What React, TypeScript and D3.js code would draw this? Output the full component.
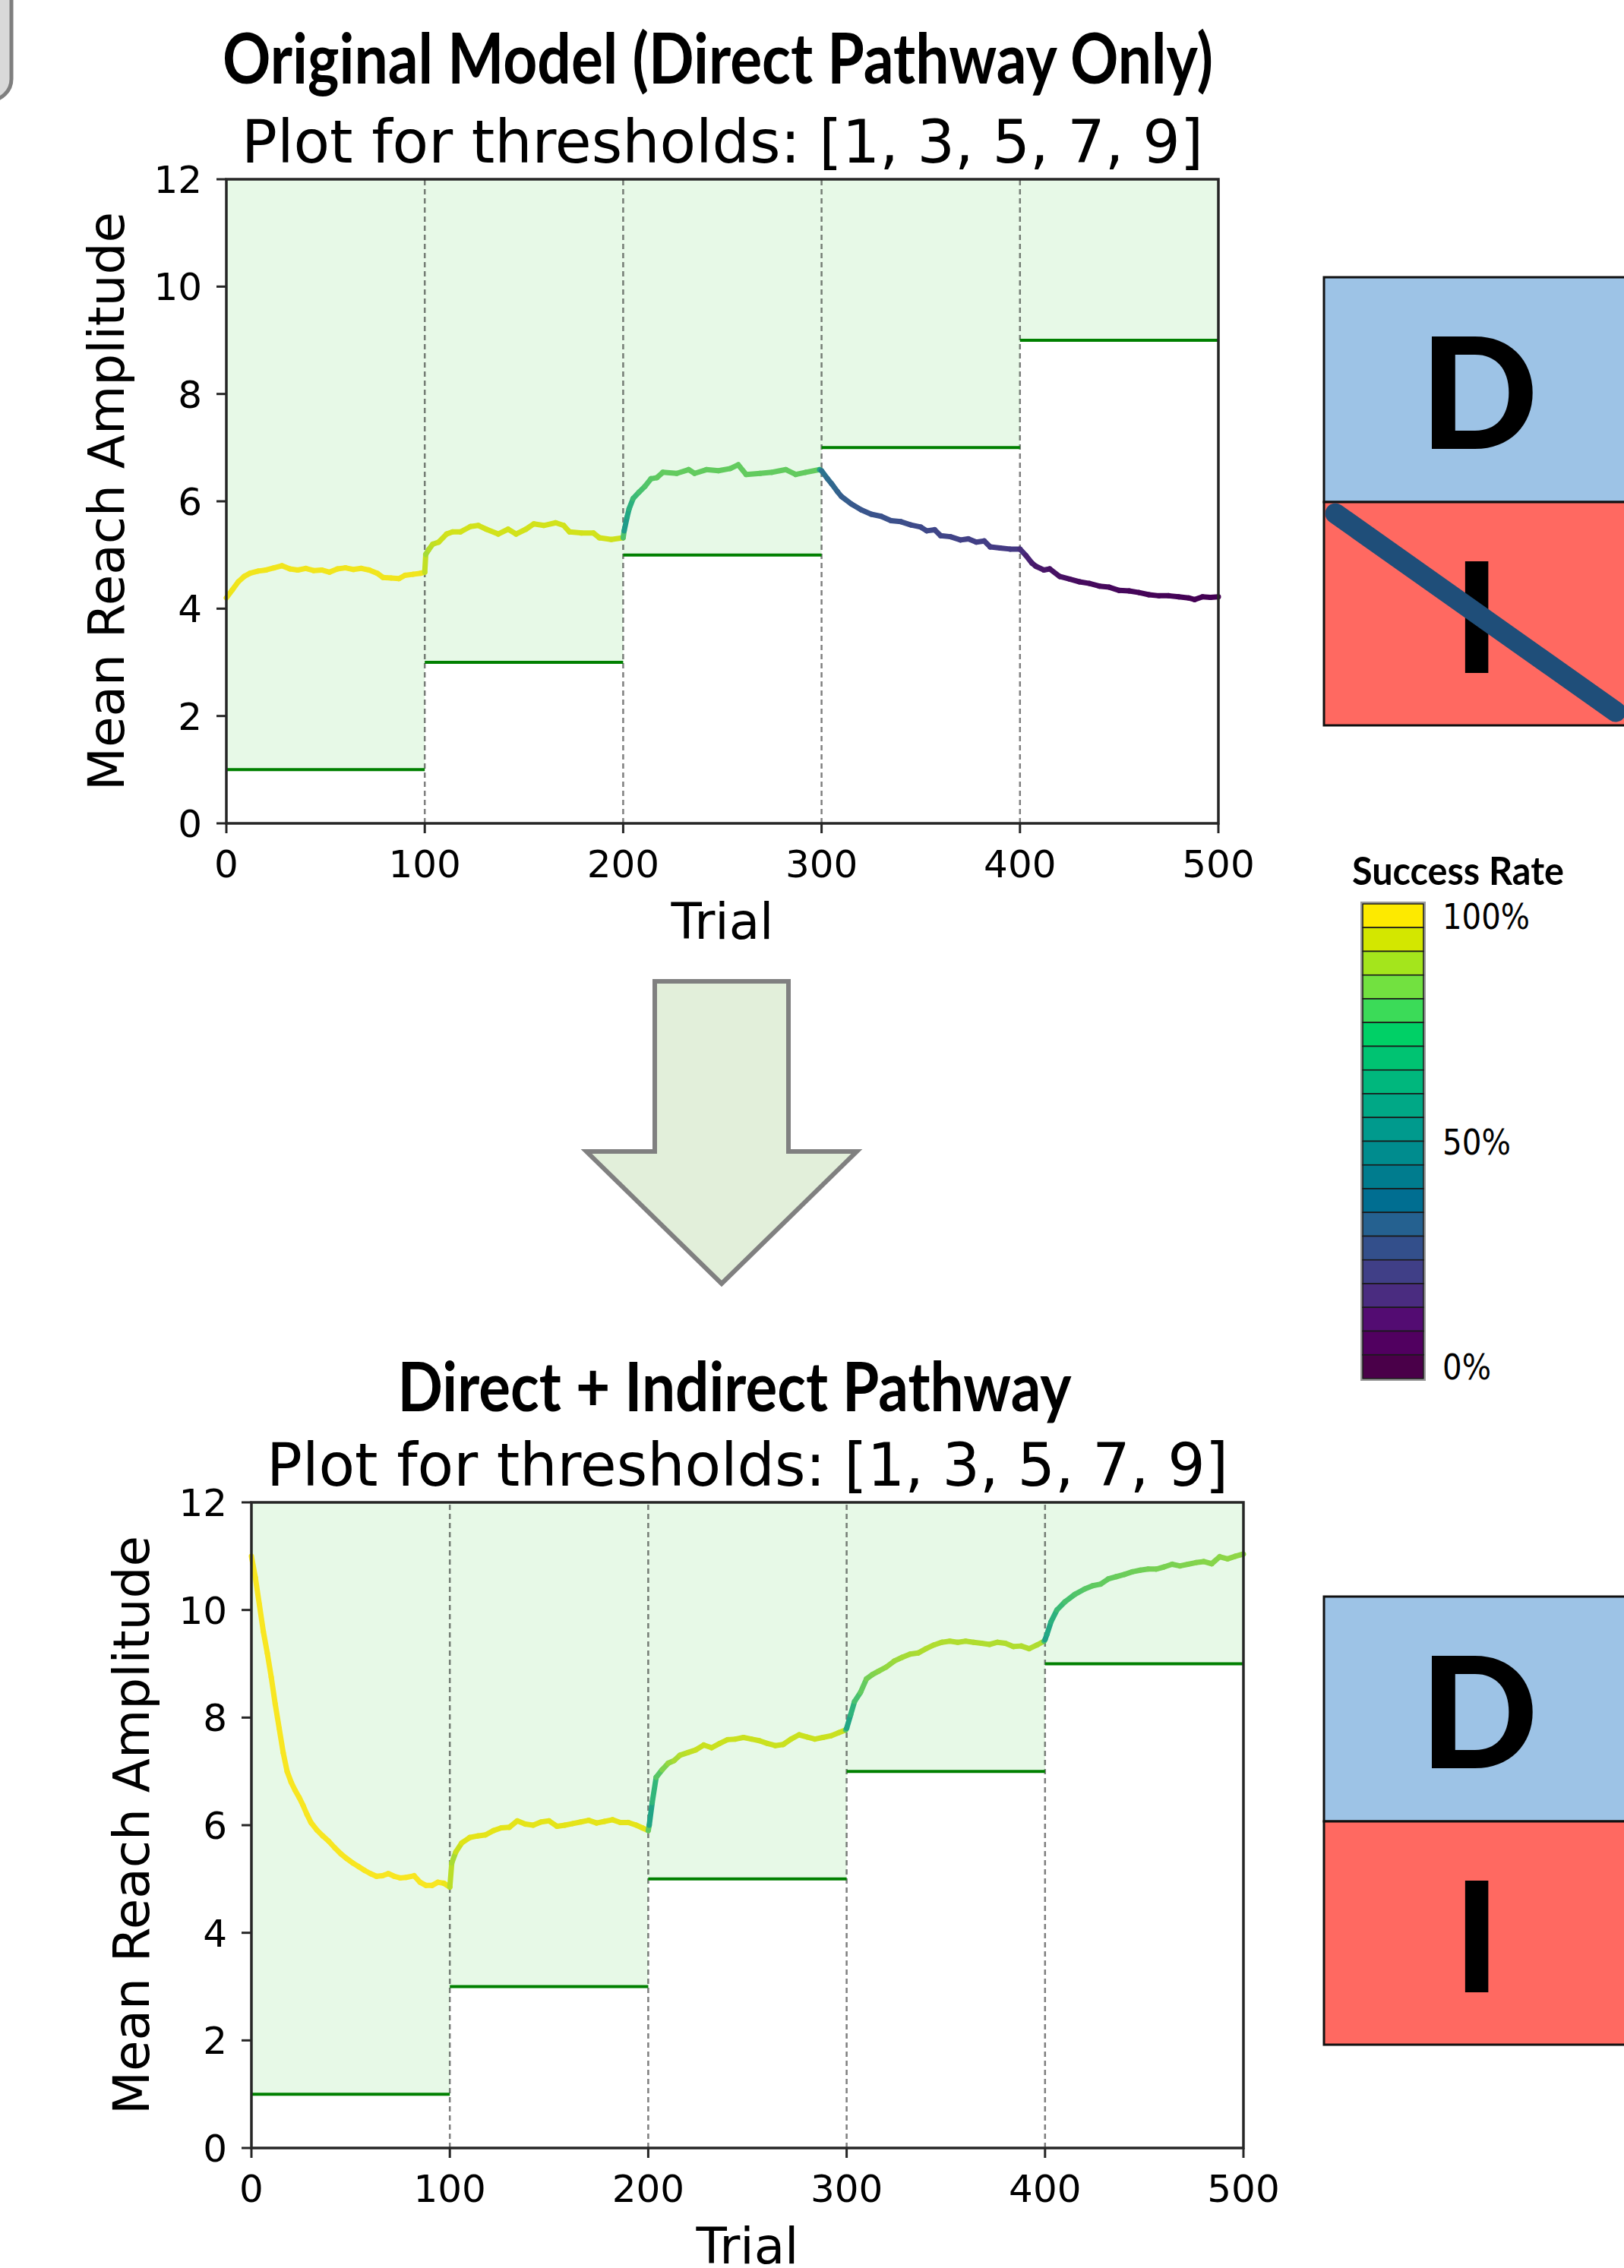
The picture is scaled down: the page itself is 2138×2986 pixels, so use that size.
import React from "react";
import * as d3 from "d3";

// thresholds per block of 100 trials
const thresholds = [1, 3, 5, 7, 9];
const blockEdges = [0, 100, 200, 300, 400, 500];
const xTicks = [0, 100, 200, 300, 400, 500];
const yTicks = [0, 2, 4, 6, 8, 10, 12];

// [trial, mean reach amplitude, success rate] - direct pathway only
const topBlock1 = [
  [0, 4.2, 0.97], [3, 4.35, 0.97], [6, 4.5, 0.98], [9, 4.6, 0.98], [12, 4.66, 0.98],
  [16, 4.7, 0.98], [20, 4.72, 0.98], [24, 4.76, 0.98], [28, 4.8, 0.98], [32, 4.74, 0.98],
  [36, 4.72, 0.98], [40, 4.75, 0.98], [44, 4.71, 0.98], [48, 4.72, 0.98], [52, 4.68, 0.98],
  [56, 4.74, 0.98], [60, 4.76, 0.98], [64, 4.73, 0.98], [68, 4.75, 0.98], [72, 4.72, 0.98],
  [76, 4.66, 0.98], [79, 4.58, 0.98], [83, 4.57, 0.98], [87, 4.56, 0.98], [90, 4.62, 0.98],
  [94, 4.64, 0.98], [98, 4.66, 0.98], [100, 4.68, 0.97],
];
const topBlock2 = [
  [100.5, 5.01, 0.85], [102, 5.1, 0.88], [104, 5.2, 0.9], [107, 5.24, 0.92], [111, 5.39, 0.93],
  [114, 5.43, 0.93], [118, 5.43, 0.93], [123, 5.53, 0.93], [127, 5.55, 0.93], [131, 5.48, 0.93],
  [137, 5.39, 0.93], [142, 5.48, 0.93], [146, 5.39, 0.93], [151, 5.48, 0.93], [155, 5.58, 0.93],
  [160, 5.55, 0.93], [166, 5.6, 0.93], [170, 5.55, 0.93], [173, 5.43, 0.93], [179, 5.41, 0.93],
  [185, 5.41, 0.93], [188, 5.32, 0.93], [194, 5.29, 0.93], [200, 5.32, 0.92],
];
const topBlock3 = [
  [200.5, 5.45, 0.52], [202, 5.71, 0.58], [203, 5.86, 0.62], [205, 6.05, 0.66], [208, 6.17, 0.7],
  [211, 6.28, 0.72], [214, 6.42, 0.74], [217, 6.44, 0.75], [220, 6.54, 0.76], [227, 6.52, 0.76],
  [233, 6.59, 0.76], [236, 6.52, 0.76], [242, 6.59, 0.76], [248, 6.57, 0.76], [254, 6.61, 0.76],
  [258, 6.68, 0.76], [262, 6.5, 0.76], [269, 6.52, 0.76], [275, 6.54, 0.76], [282, 6.59, 0.76],
  [287, 6.5, 0.76], [292, 6.54, 0.76], [299, 6.59, 0.76],
];
const topBlock4 = [
  [300, 6.57, 0.4], [303, 6.42, 0.36], [305, 6.33, 0.34], [308, 6.18, 0.32], [310, 6.09, 0.3],
  [315, 5.95, 0.28], [320, 5.84, 0.27], [325, 5.76, 0.26], [330, 5.72, 0.25], [335, 5.64, 0.25],
  [340, 5.62, 0.24], [345, 5.56, 0.23], [350, 5.52, 0.22], [353, 5.45, 0.22], [357, 5.47, 0.21],
  [360, 5.36, 0.21], [365, 5.34, 0.2], [370, 5.28, 0.2], [374, 5.3, 0.19], [378, 5.24, 0.19],
  [382, 5.26, 0.18], [385, 5.15, 0.18], [390, 5.13, 0.17], [395, 5.11, 0.17], [400, 5.11, 0.16],
];
const topBlock5 = [
  [403, 4.99, 0.1], [406, 4.85, 0.08], [408, 4.79, 0.07], [412, 4.72, 0.06], [415, 4.74, 0.05],
  [420, 4.6, 0.04], [425, 4.55, 0.04], [430, 4.5, 0.03], [435, 4.47, 0.03], [440, 4.42, 0.02],
  [445, 4.4, 0.02], [450, 4.34, 0.02], [455, 4.33, 0.02], [460, 4.3, 0.01], [465, 4.26, 0.01],
  [470, 4.24, 0.01], [475, 4.24, 0.01], [480, 4.22, 0.01], [485, 4.2, 0], [488, 4.17, 0],
  [492, 4.22, 0], [496, 4.21, 0], [500, 4.22, 0],
];

// direct + indirect pathway
const botBlock1 = [
  [0, 11.0, 0.99], [2, 10.6, 0.99], [4, 10.1, 0.99], [6, 9.6, 0.99], [8, 9.2, 0.99],
  [10, 8.75, 0.99], [12, 8.25, 0.99], [14, 7.8, 0.99], [16, 7.35, 0.99], [18, 7.0, 0.99],
  [20, 6.8, 0.99], [22, 6.65, 0.99], [24, 6.52, 0.99], [26, 6.37, 0.99], [28, 6.2, 0.99],
  [30, 6.05, 0.99], [33, 5.91, 0.99], [36, 5.8, 0.99], [39, 5.7, 0.99], [42, 5.58, 0.99],
  [45, 5.47, 0.99], [48, 5.38, 0.99], [51, 5.3, 0.99], [54, 5.23, 0.99], [57, 5.16, 0.99],
  [60, 5.1, 0.99], [63, 5.05, 0.99], [66, 5.06, 0.99], [69, 5.1, 0.99], [72, 5.05, 0.99],
  [75, 5.02, 0.99], [78, 5.03, 0.99], [82, 5.06, 0.99], [85, 4.94, 0.99], [88, 4.88, 0.99],
  [91, 4.88, 0.99], [94, 4.94, 0.99], [97, 4.92, 0.99], [100, 4.85, 0.95],
];
const botBlock2 = [
  [101, 5.3, 0.84], [103, 5.5, 0.9], [106, 5.67, 0.94], [110, 5.77, 0.96], [114, 5.8, 0.96],
  [118, 5.82, 0.96], [122, 5.9, 0.96], [126, 5.95, 0.96], [130, 5.96, 0.96], [134, 6.08, 0.96],
  [138, 6.02, 0.96], [142, 6.0, 0.96], [146, 6.06, 0.96], [150, 6.08, 0.96], [154, 5.98, 0.96],
  [158, 6.0, 0.96], [162, 6.03, 0.96], [166, 6.06, 0.96], [170, 6.09, 0.96], [174, 6.04, 0.96],
  [178, 6.07, 0.96], [182, 6.1, 0.96], [186, 6.05, 0.96], [190, 6.05, 0.96], [194, 6.0, 0.96],
  [197, 5.95, 0.96], [200, 5.9, 0.95],
];
const botBlock3 = [
  [200.5, 6.0, 0.55], [202, 6.42, 0.62], [204, 6.89, 0.7], [207, 7.03, 0.78], [210, 7.15, 0.83],
  [213, 7.2, 0.86], [216, 7.3, 0.88], [220, 7.35, 0.9], [224, 7.4, 0.91], [228, 7.49, 0.92],
  [232, 7.44, 0.92], [236, 7.52, 0.92], [240, 7.59, 0.92], [244, 7.6, 0.92], [248, 7.63, 0.92],
  [252, 7.6, 0.92], [256, 7.57, 0.92], [260, 7.52, 0.92], [264, 7.48, 0.92], [268, 7.5, 0.92],
  [272, 7.6, 0.92], [276, 7.68, 0.92], [280, 7.64, 0.92], [284, 7.6, 0.92], [288, 7.63, 0.92],
  [292, 7.66, 0.92], [296, 7.72, 0.92], [299.5, 7.77, 0.91],
];
const botBlock4 = [
  [300, 7.8, 0.56], [302, 8.05, 0.62], [304, 8.3, 0.68], [307, 8.47, 0.74], [310, 8.72, 0.78],
  [313, 8.8, 0.8], [316, 8.86, 0.82], [320, 8.94, 0.83], [324, 9.05, 0.85], [328, 9.12, 0.86],
  [332, 9.18, 0.87], [336, 9.2, 0.87], [340, 9.28, 0.88], [344, 9.35, 0.88], [348, 9.4, 0.88],
  [352, 9.42, 0.88], [356, 9.4, 0.88], [360, 9.42, 0.88], [364, 9.4, 0.88], [368, 9.38, 0.88],
  [372, 9.36, 0.88], [376, 9.4, 0.88], [380, 9.38, 0.88], [384, 9.32, 0.88], [388, 9.33, 0.88],
  [392, 9.28, 0.88], [396, 9.35, 0.88], [399.5, 9.42, 0.87],
];
const botBlock5 = [
  [400, 9.45, 0.55], [401, 9.55, 0.58], [403, 9.78, 0.62], [406, 10.0, 0.66], [410, 10.15, 0.7],
  [415, 10.29, 0.72], [420, 10.39, 0.74], [424, 10.45, 0.75], [428, 10.48, 0.76], [432, 10.58, 0.76],
  [436, 10.62, 0.77], [440, 10.66, 0.77], [444, 10.71, 0.78], [448, 10.74, 0.78], [452, 10.76, 0.79],
  [456, 10.76, 0.79], [460, 10.8, 0.8], [464, 10.85, 0.8], [468, 10.82, 0.8], [472, 10.85, 0.81],
  [476, 10.88, 0.81], [480, 10.9, 0.82], [484, 10.86, 0.82], [488, 10.99, 0.82], [492, 10.95, 0.83],
  [496, 11.0, 0.83], [500, 11.04, 0.83],
];

// stepped legend colours, top (100%) to bottom (0%)
const legendColors = [
  "#fdea00", "#d3e700", "#a4e51c", "#72e140", "#3bdb58", "#00d066", "#00c372",
  "#00b77d", "#00a886", "#009a8d", "#008c8e", "#007c8e", "#006e91", "#256190",
  "#334f8b", "#403f87", "#4a2c80", "#530c72", "#510060", "#4a0049",
];
const legendLabels = ["100%", "50%", "0%"];
const legendLabelValues = [1, 0.5, 0];

const W = 2138;
const H = 2986;
const MPL = "DejaVu Sans";
const SLIDE = "Lato, 'Open Sans', sans-serif";

type Pt = number[];
type Frame = { left: number; top: number; width: number; height: number };

function ReachChart({ frame, points }: { frame: Frame; points: Pt[] }) {
  const x = d3.scaleLinear().domain([0, 500]).range([frame.left, frame.left + frame.width]);
  const y = d3.scaleLinear().domain([0, 12]).range([frame.top + frame.height, frame.top]);
  const segs = d3.pairs(points);
  const axisColor = "#262626";

  return (
    <g>
      {thresholds.map((t, i) => (
        <rect
          key={"f" + i}
          x={x(blockEdges[i])}
          y={y(12)}
          width={x(blockEdges[i + 1]) - x(blockEdges[i])}
          height={y(t) - y(12)}
          fill="#e7f9e7"
        />
      ))}
      {blockEdges.slice(1, -1).map((e) => (
        <line
          key={"d" + e}
          x1={x(e)}
          x2={x(e)}
          y1={y(0)}
          y2={y(12)}
          stroke="#000"
          strokeOpacity={0.5}
          strokeWidth={2.5}
          strokeDasharray="7,5"
        />
      ))}
      {thresholds.map((t, i) => (
        <line
          key={"t" + i}
          x1={x(blockEdges[i])}
          x2={x(blockEdges[i + 1])}
          y1={y(t)}
          y2={y(t)}
          stroke="#008000"
          strokeWidth={4}
        />
      ))}
      {segs.map(([a, b], i) => (
        <line
          key={"s" + i}
          x1={x(a[0])}
          y1={y(a[1])}
          x2={x(b[0])}
          y2={y(b[1])}
          stroke={d3.interpolateViridis((a[2] + b[2]) / 2)}
          strokeWidth={7}
          strokeLinecap="round"
        />
      ))}
      <rect
        x={frame.left}
        y={frame.top}
        width={frame.width}
        height={frame.height}
        fill="none"
        stroke={axisColor}
        strokeWidth={3.5}
      />
      {xTicks.map((t) => (
        <g key={"xt" + t}>
          <line x1={x(t)} x2={x(t)} y1={y(0)} y2={y(0) + 13} stroke={axisColor} strokeWidth={3} />
          <text x={x(t)} y={y(0) + 71} fontFamily={MPL} fontSize={50} textAnchor="middle" fill="#000">
            {t}
          </text>
        </g>
      ))}
      {yTicks.map((t) => (
        <g key={"yt" + t}>
          <line x1={x(0) - 13} x2={x(0)} y1={y(t)} y2={y(t)} stroke={axisColor} strokeWidth={3} />
          <text x={x(0) - 32} y={y(t) + 18} fontFamily={MPL} fontSize={50} textAnchor="end" fill="#000">
            {t}
          </text>
        </g>
      ))}
      <text
        x={(x(0) + x(500)) / 2}
        y={y(0) + 152}
        fontFamily={MPL}
        fontSize={66}
        textAnchor="middle"
        fill="#000"
      >
        Trial
      </text>
      <text
        transform={`translate(${x(0) - 135},${(y(0) + y(12)) / 2}) rotate(-90)`}
        fontFamily={MPL}
        fontSize={66}
        textAnchor="middle"
        fill="#000"
      >
        Mean Reach Amplitude
      </text>
      <text
        x={(x(0) + x(500)) / 2}
        y={y(12) - 22}
        fontFamily={MPL}
        fontSize={78}
        textAnchor="middle"
        fill="#000"
        textLength={1266}
        lengthAdjust="spacingAndGlyphs"
      >
        Plot for thresholds: [1, 3, 5, 7, 9]
      </text>
    </g>
  );
}

function PathwayBox({ top, crossed }: { top: number; crossed: boolean }) {
  const left = 1743;
  const mid = top + 296;
  const bottom = top + 590;
  return (
    <g>
      <rect x={left} y={top} width={W - left + 20} height={mid - top} fill="#9dc3e6" stroke="#111" strokeWidth={3} />
      <rect x={left} y={mid} width={W - left + 20} height={bottom - mid} fill="#ff6961" stroke="#111" strokeWidth={3} />
      <text x={1947} y={top + 226} fontFamily={SLIDE} fontWeight={900} fontSize={204} textAnchor="middle" fill="#000">
        D
      </text>
      <text x={1944} y={mid + 225} fontFamily={SLIDE} fontWeight={900} fontSize={202} textAnchor="middle" fill="#000">
        I
      </text>
      {crossed && (
        <line
          x1={1758}
          y1={mid + 15}
          x2={2127}
          y2={mid + 276}
          stroke="#1f4e79"
          strokeWidth={27}
          strokeLinecap="round"
        />
      )}
    </g>
  );
}

function Legend() {
  const top = 1190;
  const bottom = 1815;
  const left = 1794;
  const width = 80;
  const cell = (bottom - top) / legendColors.length;
  const ly = d3.scaleLinear().domain([0, 1]).range([bottom - cell / 2, top + cell / 2]);
  return (
    <g>
      <text
        x={1780}
        y={1165}
        fontFamily={SLIDE}
        fontWeight={700}
        fontSize={52}
        textLength={279}
        lengthAdjust="spacingAndGlyphs"
        fill="#000"
      >
        Success Rate
      </text>
      <rect x={left - 2} y={top - 2} width={width + 4} height={bottom - top + 4} fill="none" stroke="#9a9a9a" strokeWidth={2} />
      {legendColors.map((c, i) => (
        <rect
          key={c + i}
          x={left}
          y={top + i * cell}
          width={width}
          height={cell}
          fill={c}
          stroke="#1a1a1a"
          strokeWidth={1.6}
        />
      ))}
      {legendLabels.map((l, i) => (
        <text
          key={l}
          x={1899}
          y={ly(legendLabelValues[i]) + 17}
          fontFamily={MPL}
          fontSize={46}
          fill="#000"
          textLength={[115, 90, 64][i]}
          lengthAdjust="spacingAndGlyphs"
        >
          {l}
        </text>
      ))}
    </g>
  );
}

export default function App() {
  const topPoints = [...topBlock1, ...topBlock2, ...topBlock3, ...topBlock4, ...topBlock5];
  const botPoints = [...botBlock1, ...botBlock2, ...botBlock3, ...botBlock4, ...botBlock5];
  return (
    <svg
      width={W}
      height={H}
      viewBox={`0 0 ${W} ${H}`}
      style={{ position: "absolute", left: 0, top: 0, display: "block", background: "#fff" }}
    >
      <rect x={0} y={0} width={W} height={H} fill="#fff" />
      {/* corner of a slide shape */}
      <rect x={-60} y={-60} width={75} height={192} rx={28} fill="#d9d9d9" stroke="#7f7f7f" strokeWidth={5} />

      <text
        x={945}
        y={110}
        fontFamily={SLIDE}
        fontWeight={700}
        fontSize={92}
        textAnchor="middle"
        textLength={1304}
        lengthAdjust="spacingAndGlyphs"
        fill="#000"
      >
        Original Model (Direct Pathway Only)
      </text>
      <ReachChart frame={{ left: 298, top: 236, width: 1306, height: 848 }} points={topPoints} />

      <polygon
        points="862,1292 1038,1292 1038,1516 1128,1516 950,1690 772,1516 862,1516"
        fill="#e2efda"
        stroke="#808080"
        strokeWidth={6}
      />

      <text
        x={967}
        y={1858}
        fontFamily={SLIDE}
        fontWeight={700}
        fontSize={90}
        textAnchor="middle"
        textLength={887}
        lengthAdjust="spacingAndGlyphs"
        fill="#000"
      >
        Direct + Indirect Pathway
      </text>
      <ReachChart frame={{ left: 331, top: 1978, width: 1306, height: 850 }} points={botPoints} />

      <PathwayBox top={365} crossed={true} />
      <Legend />
      <PathwayBox top={2102} crossed={false} />
    </svg>
  );
}
